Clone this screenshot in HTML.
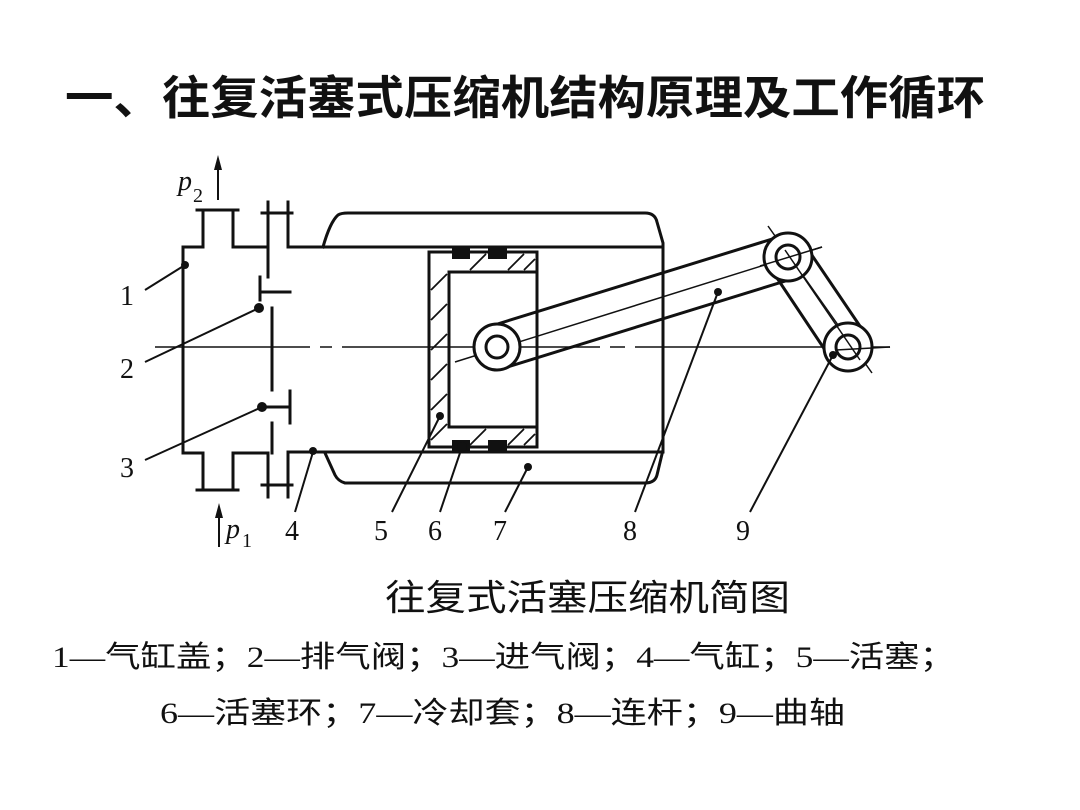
<!DOCTYPE html>
<html><head><meta charset="utf-8"><style>
html,body{margin:0;padding:0;background:#fff;}
svg{display:block;}
</style></head><body>
<svg width="1080" height="810" viewBox="0 0 1080 810" xmlns="http://www.w3.org/2000/svg">
<rect width="1080" height="810" fill="#fff"/>
<text x="65" y="114" font-family="Liberation Sans, Noto Sans CJK SC, sans-serif" font-size="46" font-weight="bold" textLength="920" lengthAdjust="spacingAndGlyphs" fill="#111">一、往复活塞式压缩机结构原理及工作循环</text>

<g stroke="#111" fill="none" stroke-width="3" stroke-linecap="square">
<path d="M268 247 H233 V210 M197 210 H238 M203 210 V247 H183 V453 H203 V490 M197 490 H238 M233 490 V453 H268"/>
<path d="M268 202 V277 M288 202 V247 M262 213 H292"/>
<path d="M268 453 V497 M288 453 V497 M262 485 H292"/>
<path d="M272 308 V390 M272 423 V453"/>
<path d="M260 277 V300 M260 292 H290"/>
<path d="M262 407 H290 M290 391 V423"/>
<path d="M288 247 H663 M288 452 H663"/>
<path d="M323 247 Q330 222 338 215 Q341 213 348 213 H645 Q655 213 657 222 L663 243 V450 L657 475 Q655 483 645 483 H345 Q338 481 335 475 L325 453"/>
<rect x="429" y="252" width="108" height="195"/>
<path d="M449 427 V272 H537 M449 427 H537"/>
</g>
<g stroke="#111" stroke-width="1.8">
<line x1="431" y1="290" x2="447" y2="274"/><line x1="431" y1="320" x2="447" y2="304"/><line x1="431" y1="350" x2="447" y2="334"/><line x1="431" y1="380" x2="447" y2="364"/><line x1="431" y1="410" x2="447" y2="394"/><line x1="431" y1="440" x2="447" y2="424"/>
<line x1="470" y1="270" x2="486" y2="254"/><line x1="508" y1="270" x2="524" y2="254"/><line x1="524" y1="270" x2="535" y2="259"/>
<line x1="470" y1="445" x2="486" y2="429"/><line x1="508" y1="445" x2="524" y2="429"/><line x1="524" y1="445" x2="535" y2="434"/>
</g>
<g fill="#111">
<rect x="452" y="247" width="18" height="12"/><rect x="488" y="247" width="19" height="12"/>
<rect x="452" y="440" width="18" height="13"/><rect x="488" y="440" width="19" height="13"/>
</g>
<g stroke="#111" stroke-width="1.5">
<line x1="155" y1="347" x2="310" y2="347"/><line x1="320" y1="347" x2="332" y2="347"/><line x1="342" y1="347" x2="600" y2="347"/><line x1="610" y1="347" x2="625" y2="347"/><line x1="635" y1="347" x2="890" y2="347"/>
<line x1="455" y1="362" x2="822" y2="247"/>
<line x1="768" y1="226" x2="872" y2="373"/>
</g>
<g stroke="#111" stroke-width="3" fill="#fff">
<polygon points="491,326 782,236 795,278 504,368" fill="none"/>
<polygon points="805,245 866,335 831,359 771,269" fill="none"/>
<circle cx="497" cy="347" r="23"/><circle cx="497" cy="347" r="11"/>
<circle cx="788" cy="257" r="24"/><circle cx="788" cy="257" r="12" fill="none"/>
<circle cx="848" cy="347" r="24"/><circle cx="848" cy="347" r="12" fill="none"/>
</g>
<g stroke="#111" stroke-width="1.5"><line x1="822" y1="247" x2="760" y2="266"/><line x1="785" y1="250" x2="860" y2="360"/><line x1="836" y1="350" x2="890" y2="347"/></g>
<g stroke="#111" stroke-width="2">
<line x1="145" y1="290" x2="185" y2="265"/><line x1="145" y1="362" x2="259" y2="308"/><line x1="145" y1="460" x2="262" y2="407"/>
<line x1="295" y1="512" x2="313" y2="452"/><line x1="392" y1="512" x2="440" y2="416"/><line x1="440" y1="512" x2="462" y2="447"/>
<line x1="505" y1="512" x2="528" y2="467"/><line x1="635" y1="512" x2="718" y2="292"/><line x1="750" y1="512" x2="833" y2="355"/>
</g>
<g fill="#111">
<circle cx="185" cy="265" r="4"/><circle cx="259" cy="308" r="5"/><circle cx="262" cy="407" r="5"/><circle cx="313" cy="451" r="4"/><circle cx="440" cy="416" r="4"/><circle cx="462" cy="447" r="5"/><circle cx="528" cy="467" r="4"/><circle cx="718" cy="292" r="4"/><circle cx="833" cy="355" r="4"/>
</g>
<g stroke="#111" stroke-width="2"><line x1="218" y1="200" x2="218" y2="165"/><line x1="219" y1="547" x2="219" y2="510"/></g>
<polygon points="218,155 214,170 222,170" fill="#111"/>
<polygon points="219,503 215,518 223,518" fill="#111"/>
<g font-family="Liberation Serif, serif" fill="#111">
<text x="178" y="190" font-size="28" font-style="italic">p</text><text x="193" y="202" font-size="20">2</text>
<text x="226" y="538" font-size="28" font-style="italic">p</text><text x="242" y="547" font-size="20">1</text>
<text x="120" y="305" font-size="28">1</text><text x="120" y="378" font-size="28">2</text><text x="120" y="477" font-size="28">3</text>
<text x="285" y="540" font-size="28">4</text><text x="374" y="540" font-size="28">5</text><text x="428" y="540" font-size="28">6</text><text x="493" y="540" font-size="28">7</text><text x="623" y="540" font-size="28">8</text><text x="736" y="540" font-size="28">9</text>
</g>
<g font-family="Liberation Serif, Noto Sans CJK SC, sans-serif" fill="#111">
<text x="385" y="610" font-size="36" textLength="405" lengthAdjust="spacingAndGlyphs">往复式活塞压缩机简图</text>
<text x="52" y="667" font-size="30" textLength="903" lengthAdjust="spacingAndGlyphs">1—气缸盖；2—排气阀；3—进气阀；4—气缸；5—活塞；</text>
<text x="160" y="723" font-size="30" textLength="685" lengthAdjust="spacingAndGlyphs">6—活塞环；7—冷却套；8—连杆；9—曲轴</text>
</g>
</svg>
</body></html>
